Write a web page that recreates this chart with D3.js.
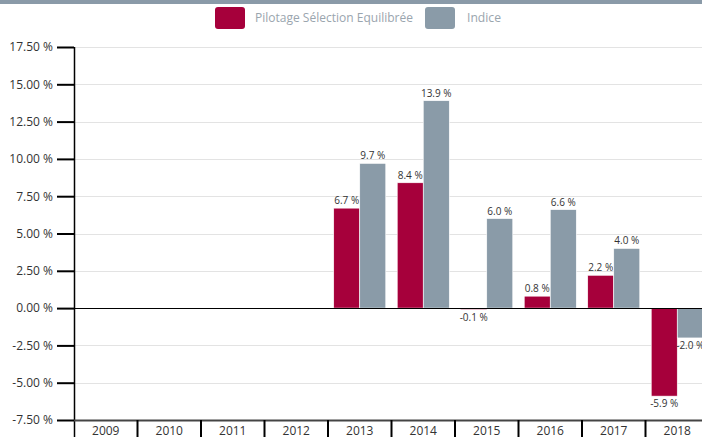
<!DOCTYPE html>
<html><head><meta charset="utf-8">
<script src="https://cdn.jsdelivr.net/npm/d3@7"></script>
<style>body{margin:0;background:#fff}svg{display:block;font-family:"Open Sans",sans-serif}</style>
</head><body>
<script>
const categories = ["2009","2010","2011","2012","2013","2014","2015","2016","2017","2018"];
const pilotage = [null,null,null,null,6.7,8.4,-0.1,0.8,2.2,-5.9];
const indice = [null,null,null,null,9.7,13.9,6.0,6.6,4.0,-2.0];
const seriesNames = ["Pilotage Sélection Equilibrée","Indice"];
const yTicks = [17.5,15,12.5,10,7.5,5,2.5,0,-2.5,-5,-7.5];
const colors = ["#a6003b","#8a9ba8"];

const W=702,H=437;
const svg=d3.select("body").append("svg").attr("width",W).attr("height",H);
svg.append("rect").attr("x",0).attr("y",0).attr("width",W).attr("height",4).attr("fill","#8a9aa8");

const x0=d3.scaleBand().domain(categories).range([74,709]).paddingInner(0).paddingOuter(0);
const y=d3.scaleLinear().domain([-7.5,17.5]).range([420,47]);
const x1=d3.scaleBand().domain([0,1]).range([0,x0.bandwidth()]).paddingOuter(0.22).paddingInner(0);

// grid
svg.append("g").selectAll("line").data(yTicks).join("line")
 .attr("x1",74).attr("x2",W).attr("y1",d=>Math.round(y(d))+0.5).attr("y2",d=>Math.round(y(d))+0.5)
 .attr("stroke","#e3e3e3");

// bars
const series=[pilotage,indice];
series.forEach((vals,si)=>{
  const data=categories.map((c,i)=>({c,v:vals[i]})).filter(d=>d.v!==null);
  svg.append("g").selectAll("rect").data(data).join("rect")
   .attr("x",d=>x0(d.c)+x1(si))
   .attr("width",x1.bandwidth())
   .attr("y",d=>y(Math.max(0,d.v)))
   .attr("height",d=>Math.abs(y(d.v)-y(0)))
   .attr("fill",colors[si]).attr("stroke","#fff").attr("stroke-width",0.6);
  svg.append("g").selectAll("text").data(data).join("text")
   .attr("x",d=>x0(d.c)+x1(si)+x1.bandwidth()/2)
   .attr("y",d=>d.v>=0?y(d.v)-4:y(d.v)+11)
   .attr("text-anchor","middle").attr("font-size",10).attr("fill","#333")
   .text(d=>d.v.toFixed(1)+" %");
});

// zero line
svg.append("line").attr("x1",74).attr("x2",W).attr("y1",Math.round(y(0))+0.5).attr("y2",Math.round(y(0))+0.5).attr("stroke","#000");

// y axis
const yAxis=d3.axisLeft(y).tickValues(yTicks).tickSize(17).tickPadding(4)
  .tickFormat(d=>d3.format(".2f")(d).replace("−","-")+" %");
const gy=svg.append("g").attr("transform","translate(74,0)").call(yAxis);
gy.select(".domain").remove();
gy.selectAll(".tick line").attr("stroke","#000").attr("stroke-width",2);
gy.selectAll("text").attr("font-size",12).attr("fill","#333").attr("font-family","Open Sans");
svg.append("line").attr("x1",74.5).attr("x2",74.5).attr("y1",47).attr("y2",H).attr("stroke","#000").attr("stroke-width",1.5);

// x axis
svg.append("line").attr("x1",74).attr("x2",W).attr("y1",420.5).attr("y2",420.5).attr("stroke","#444").attr("stroke-width",2);
const gx=svg.append("g");
gx.selectAll("line").data(categories.slice(1)).join("line")
 .attr("x1",d=>x0(d)).attr("x2",d=>x0(d)).attr("y1",420).attr("y2",H).attr("stroke","#000").attr("stroke-width",2);
gx.selectAll("text").data(categories).join("text")
 .attr("x",d=>x0(d)+x0.bandwidth()/2).attr("y",435).attr("text-anchor","middle")
 .attr("font-size",12).attr("fill","#333").text(d=>d);

// legend
const lg=svg.append("g");
const legendItems=[{x:215,tx:255,w:158},{x:425,tx:467,w:34}];
seriesNames.forEach((n,i)=>{
  lg.append("rect").attr("x",legendItems[i].x).attr("y",7).attr("width",30).attr("height",22).attr("rx",3).attr("fill",colors[i]);
  lg.append("text").attr("x",legendItems[i].tx).attr("y",22).attr("font-size",13).attr("fill","#9aa5ae")
    .attr("textLength",legendItems[i].w).attr("lengthAdjust","spacingAndGlyphs").text(n);
});
</script>
</body></html>
